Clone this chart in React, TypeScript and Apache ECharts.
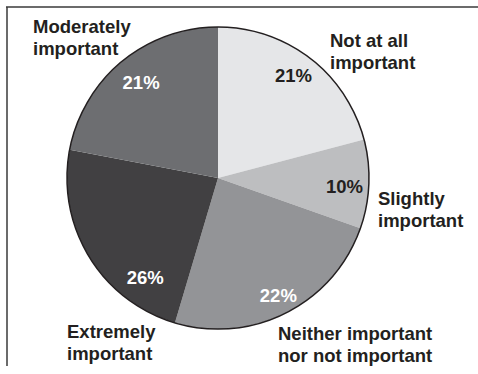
import React, { useEffect, useRef } from "react";
import * as echarts from "echarts";

// Categories in clockwise order starting at 12 o'clock
const CATEGORIES = [
  "Not at all important",
  "Slightly important",
  "Neither important nor not important",
  "Extremely important",
  "Moderately important",
];
const NAME_LINES = [
  ["Not at all", "important"],
  ["Slightly", "important"],
  ["Neither important", "nor not important"],
  ["Extremely", "important"],
  ["Moderately", "important"],
];
// Slice sizes as drawn in the picture
const SHARES = [20.9, 9.5, 24.2, 23.4, 22.0];
// Percentages printed on the slices
const PERCENT_LABELS = ["21%", "10%", "22%", "26%", "21%"];

// Styling / layout (kept separate from data)
const COLORS = ["#e5e6e8", "#bdbec0", "#939497", "#414042", "#6d6e71"];
const PCT_COLORS = ["#231f20", "#231f20", "#ffffff", "#ffffff", "#ffffff"];
const PCT_OFFSETS: [number, number][] = [[-3, -1], [-2, 3], [2, 3], [37, 33], [5, 4]];
const NAME_POS: [number, number][] = [[330, 29], [378, 187], [278, 322], [67, 320], [33, 15]];
const CENTER: [number, number] = [218, 178];
const R = 151;
const FONT = '"Liberation Sans", Arial, Helvetica, sans-serif';
const INK = "#231f20";
const FS = 18.5;

export default function App() {
  const ref = useRef<HTMLDivElement>(null);
  useEffect(() => {
    document.body.style.margin = "0";
    const chart = echarts.init(ref.current!, undefined, { renderer: "svg" });
    const option: any = {
      animation: false,
      backgroundColor: "#ffffff",
      series: [
        {
          type: "pie",
          center: CENTER,
          radius: [0, R],
          startAngle: 90,
          clockwise: true,
          silent: true,
          label: { show: false },
          labelLine: { show: false },
          itemStyle: { borderWidth: 0 },
          emphasis: { disabled: true },
          data: CATEGORIES.map((name, i) => ({
            name,
            value: SHARES[i],
            itemStyle: { color: COLORS[i] },
          })),
          z: 1,
        },
        {
          type: "pie",
          center: CENTER,
          radius: [0, R],
          silent: true,
          label: { show: false },
          labelLine: { show: false },
          emphasis: { disabled: true },
          itemStyle: { color: "transparent", borderColor: INK, borderWidth: 1.5 },
          data: [{ name: "outline", value: 1 }],
          z: 2,
        },
        {
          type: "pie",
          center: CENTER,
          radius: [100, R],
          startAngle: 90,
          clockwise: true,
          silent: true,
          emphasis: { disabled: true },
          labelLine: { show: false },
          itemStyle: { color: "transparent", borderWidth: 0 },
          data: CATEGORIES.map((name, i) => ({
            name,
            value: SHARES[i],
            label: {
              show: true,
              position: "inside",
              rotate: 0,
              formatter: () => PERCENT_LABELS[i],
              color: PCT_COLORS[i],
              fontSize: FS,
              fontWeight: "bold",
              fontFamily: FONT,
              offset: PCT_OFFSETS[i],
            },
          })),
          z: 3,
        },
      ],
      graphic: [
        {
          type: "line",
          shape: { x1: 6, y1: 7, x2: 478, y2: 7 },
          style: { stroke: "#3a3a3a", lineWidth: 1.5 },
        },
        {
          type: "line",
          shape: { x1: 7, y1: 7, x2: 7, y2: 366 },
          style: { stroke: "#3a3a3a", lineWidth: 1.5 },
        },
        ...NAME_LINES.map((lines, i) => ({
          type: "text",
          x: NAME_POS[i][0],
          y: NAME_POS[i][1],
          style: {
            text: lines.join("\n"),
            fill: INK,
            fontSize: FS,
            fontWeight: "bold",
            fontFamily: FONT,
            lineHeight: 22,
            align: "left",
            verticalAlign: "top",
          },
        })),
      ],
    };
    chart.setOption(option);
    return () => chart.dispose();
  }, []);
  return <div ref={ref} style={{ width: 478, height: 374 }} />;
}
